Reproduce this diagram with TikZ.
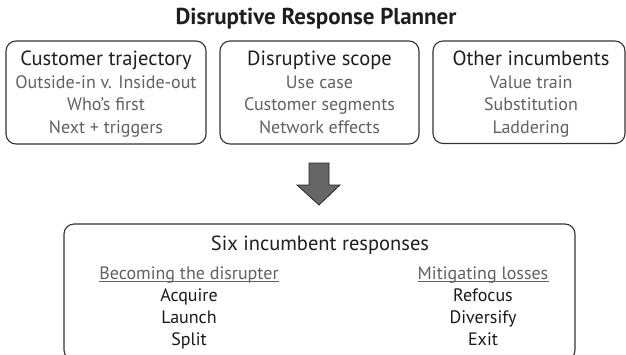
\documentclass[tikz,border=0pt]{standalone}
\usepackage{fontspec}
\setmainfont{PT Sans}
\begin{document}
\begin{tikzpicture}[x=1pt,y=-1pt,
  box/.style={draw=black!80, line width=1.1pt, rounded corners=10pt, inner sep=0pt},
  head/.style={text=black!88, font=\fontsize{20.5}{22}\selectfont, inner sep=0pt, anchor=base},
  item/.style={text=black!62, font=\fontsize{18}{20}\selectfont, inner sep=0pt, anchor=base},
  pick/.style={text=black!90, font=\fontsize{18}{20}\selectfont, inner sep=0pt, anchor=base},
  ttl/.style={text=black!88, font=\bfseries\fontsize{23}{25}\selectfont, inner sep=0pt, anchor=base},
  uline/.style={draw=black!62, line width=0.7pt}]
\useasboundingbox (0,0) rectangle (626,354);
\node[ttl] (title) at (316,24.5) {Disruptive Response Planner};
% top boxes
\draw[box] (6,41) rectangle (206,144);
\draw[box] (220,41) rectangle (419,144);
\draw[box] (433,41) rectangle (625,143.5);
\node[head] (h1) at (106,65.8) {Customer trajectory};
\node[item] (a1) at (106,88.8) {Outside-in v. Inside-out};
\node[item] (a2) at (106,110.8) {Who’s first};
\node[item] (a3) at (106,133.3) {Next + triggers};
\node[head] (h2) at (319.5,65.8) {Disruptive scope};
\node[item] (b1) at (319.5,88.8) {Use case};
\node[item] (b2) at (319.5,110.8) {Customer segments};
\node[item] (b3) at (319.5,133.3) {Network effects};
\node[head] (h3) at (531,65.8) {Other incumbents};
\node[item] (c1) at (531,88.8) {Value train};
\node[item] (c2) at (531,110.8) {Substitution};
\node[item] (c3) at (531,133.3) {Laddering};
% arrow
\draw[fill=black!60, draw=black!85, line width=0.8pt, line join=miter]
  (309,163) -- (329,163) -- (329,185) -- (340,185) -- (319,205) -- (297,185) -- (309,185) -- cycle;
% bottom box
\draw[box] (64,224) rectangle (575,360);
\node[head] (s) at (320,250.8) {Six incumbent responses};
\node[item] (l0) at (189,279.3) {Becoming the disrupter};
\draw[uline] ([yshift=-1.8pt]l0.base west) -- ([yshift=-1.8pt]l0.base east);
\node[pick] (l1) at (189,301.3) {Acquire};
\node[pick] (l2) at (189,323.3) {Launch};
\node[pick] (l3) at (189,345.3) {Split};
\node[item] (r0) at (483,279.3) {Mitigating losses};
\draw[uline] ([yshift=-1.8pt]r0.base west) -- ([yshift=-1.8pt]r0.base east);
\node[pick] (r1) at (483,301.3) {Refocus};
\node[pick] (r2) at (483,323.3) {Diversify};
\node[pick] (r3) at (483,345.3) {Exit};
\end{tikzpicture}
\end{document}
